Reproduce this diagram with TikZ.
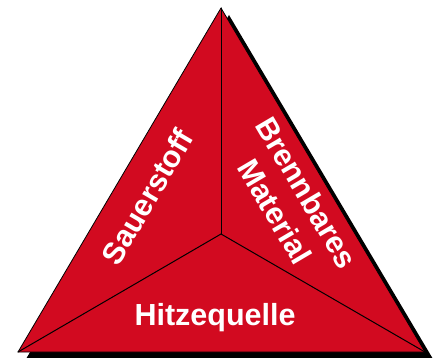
\documentclass[tikz,border=0pt]{standalone}
\usepackage{fontspec}
\setmainfont{Liberation Sans}
\definecolor{feuerrot}{RGB}{210,10,32}
\begin{document}
\begin{tikzpicture}[x=1pt,y=-1pt,line join=round,line cap=round,
	every node/.style={font=\fontsize{30.5}{37}\selectfont\bfseries,text=white,inner sep=0pt},
	declare function={xT = 221; yT = 8; xL = 18; yL = 352; xR = 425; yR = 352; xM = 221; yM = 234; dxS = 8; dyS = 7; aS = 59.5;}]
	\useasboundingbox (0,0) rectangle (441,358);
	%%Ecken
	\coordinate (T) at (xT,yT);
	\coordinate (L) at (xL,yL);
	\coordinate (R) at (xR,yR);
	\coordinate (M) at (xM,yM);
	%%Schatten
	\fill[black] ([shift={(dxS,dyS)}]T) -- ([shift={(dxS,dyS)}]L) -- ([shift={(dxS,dyS)}]R) -- cycle;
	%%Dreieck
	\draw[fill=feuerrot,line width=0.8pt] (T) -- (L) -- (R) -- cycle;
	%%Trennlinien
	\draw[line width=1pt] (M) -- (T);
	\draw[line width=1pt] (M) -- (L);
	\draw[line width=1pt] (M) -- (R);
	%%Beschriftung
	\node[rotate=aS] (sauer) at (147,197) {Sauerstoff};
	\node[rotate=-aS,align=center] (brenn) at (291,202) {Brennbares\\Material};
	\node (hitze) at (215,318) {Hitzequelle};
\end{tikzpicture}
\end{document}
